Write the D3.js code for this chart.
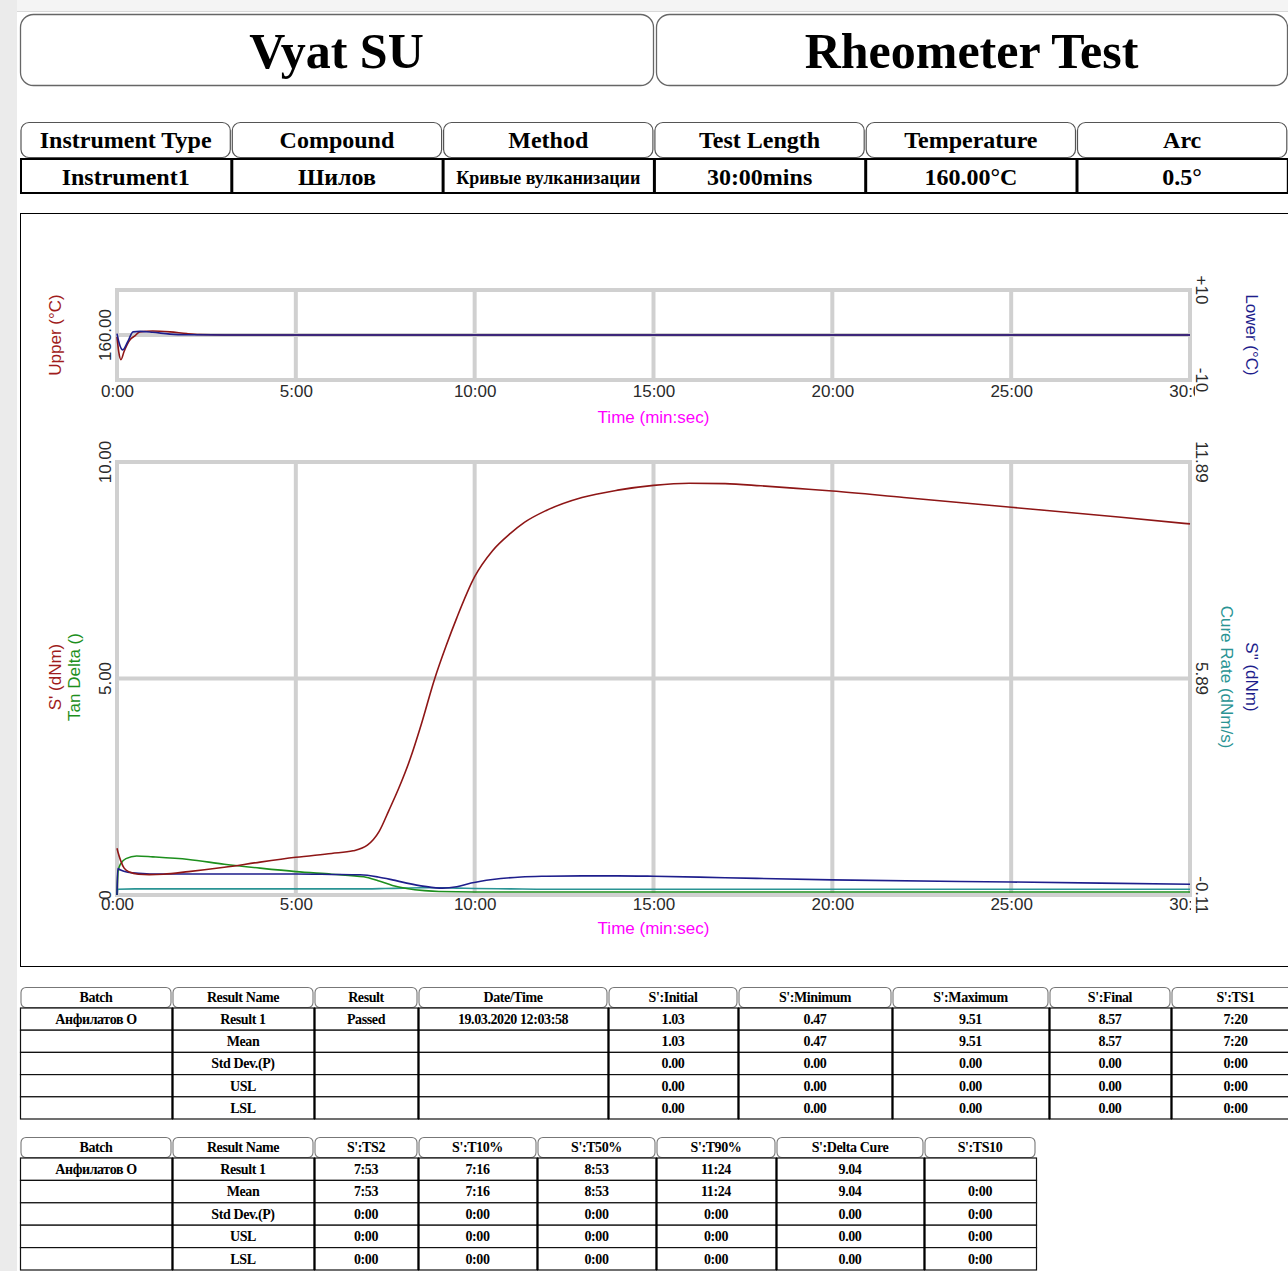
<!DOCTYPE html>
<html>
<head>
<meta charset="utf-8">
<script src="https://cdn.jsdelivr.net/npm/d3@7"></script>
<style>
  body { margin: 0; background: #fff; }
  svg { display: block; }
</style>
</head>
<body>
<div id="chart"></div>
<script>
// -- DATA --
const titles = ["Vyat SU", "Rheometer Test"];
const infoHeaders = ["Instrument Type", "Compound", "Method", "Test Length", "Temperature", "Arc"];
const infoValues = ["Instrument1", "Шилов", "Кривые вулканизации", "30:00mins", "160.00°C", "0.5°"];

const timeTicks = [0, 5, 10, 15, 20, 25, 30];
const upperTicks = [160];
const lowerTicks = [10, -10];
const leftTicks = [0, 5, 10];
const rightTicks = [-0.11, 5.89, 11.89];

// temperature (top chart)
const upperT = [0, 0.05, 0.11, 0.2, 0.36, 0.5, 0.64, 1.0, 1.48, 1.95, 2.3, 3, 30];
const upperV = [159.6, 156.2, 154.5, 156.4, 158.9, 159.8, 160.7, 160.9, 160.7, 160.3, 160.1, 160, 160];
const lowerT = [0, 0.05, 0.16, 0.3, 0.45, 0.64, 1.0, 1.48, 2.0, 3, 30];
const lowerV = [0.3, -1.5, -3.3, -1.5, 0.7, 0.8, 0.6, 0.2, 0.05, 0, 0];

// S' (dNm)
const sPrimeT = [0, 0.03, 0.1, 0.2, 0.35, 0.6, 0.9, 1.3, 2, 3, 4, 5, 6, 6.6, 7.0, 7.33, 7.6, 7.88, 8.2, 8.5, 8.88, 9.2, 9.5, 10, 10.5, 11, 11.4, 12, 13, 14, 15, 16, 17, 18, 19, 20, 22, 24, 26, 28, 30];
const sPrimeV = [1.08, 0.98, 0.80, 0.62, 0.53, 0.48, 0.47, 0.48, 0.54, 0.64, 0.76, 0.87, 0.96, 1.02, 1.15, 1.47, 1.95, 2.47, 3.15, 3.92, 4.99, 5.75, 6.40, 7.35, 7.95, 8.35, 8.61, 8.88, 9.18, 9.35, 9.46, 9.51, 9.50, 9.45, 9.39, 9.33, 9.18, 9.03, 8.88, 8.73, 8.57];
// Tan Delta
const tanT = [0, 0.03, 0.1, 0.25, 0.55, 1, 2, 3, 4, 5, 6, 6.9, 7.3, 7.7, 8.1, 8.6, 9, 10, 15, 20, 25, 30];
const tanV = [0, 0.55, 0.72, 0.84, 0.90, 0.88, 0.82, 0.71, 0.62, 0.54, 0.48, 0.42, 0.33, 0.22, 0.15, 0.10, 0.08, 0.07, 0.07, 0.07, 0.07, 0.07];
// S" (dNm)
const sDblT = [0, 0.02, 0.1, 0.3, 0.6, 1, 2, 3, 4, 5, 6, 6.8, 7.3, 7.7, 8.1, 8.6, 9.1, 9.5, 9.9, 10.5, 11.3, 12, 13, 14, 15, 17, 20, 25, 30];
const sDblV = [-0.11, 0.62, 0.58, 0.52, 0.49, 0.47, 0.47, 0.47, 0.47, 0.47, 0.46, 0.45, 0.39, 0.31, 0.22, 0.13, 0.08, 0.12, 0.22, 0.32, 0.39, 0.41, 0.42, 0.42, 0.41, 0.37, 0.31, 0.25, 0.19];
// Cure Rate (dNm/s)
const cureT = [0, 0.02, 0.5, 3, 6, 7, 7.5, 8, 8.5, 9, 9.5, 10, 11, 12, 15, 20, 25, 30];
const cureV = [-0.11, 0.05, 0.06, 0.06, 0.06, 0.06, 0.07, 0.08, 0.09, 0.09, 0.08, 0.07, 0.06, 0.05, 0.05, 0.05, 0.05, 0.05];

// results tables
const resHeaders1 = ["Batch", "Result Name", "Result", "Date/Time", "S':Initial", "S':Minimum", "S':Maximum", "S':Final", "S':TS1"];
const resRows1 = [
  ["Анфилатов О", "Result 1", "Passed", "19.03.2020 12:03:58", "1.03", "0.47", "9.51", "8.57", "7:20"],
  ["", "Mean", "", "", "1.03", "0.47", "9.51", "8.57", "7:20"],
  ["", "Std Dev.(P)", "", "", "0.00", "0.00", "0.00", "0.00", "0:00"],
  ["", "USL", "", "", "0.00", "0.00", "0.00", "0.00", "0:00"],
  ["", "LSL", "", "", "0.00", "0.00", "0.00", "0.00", "0:00"]
];
const resHeaders2 = ["Batch", "Result Name", "S':TS2", "S':T10%", "S':T50%", "S':T90%", "S':Delta Cure", "S':TS10"];
const resRows2 = [
  ["Анфилатов О", "Result 1", "7:53", "7:16", "8:53", "11:24", "9.04", ""],
  ["", "Mean", "7:53", "7:16", "8:53", "11:24", "9.04", "0:00"],
  ["", "Std Dev.(P)", "0:00", "0:00", "0:00", "0:00", "0.00", "0:00"],
  ["", "USL", "0:00", "0:00", "0:00", "0:00", "0.00", "0:00"],
  ["", "LSL", "0:00", "0:00", "0:00", "0:00", "0.00", "0:00"]
];

// -- LAYOUT --
const W = 1288, H = 1271;
const serif = "'Liberation Serif', 'Times New Roman', serif";
const sans = "'Liberation Sans', Arial, sans-serif";
const cRed = "#8e1616", cBlue = "#1e1e8c", cGreen = "#1d8f1d", cTeal = "#2a9494", cMag = "#ff00ff";

const svg = d3.select("#chart").append("svg")
  .attr("width", W).attr("height", H);

svg.append("rect").attr("width", W).attr("height", H).attr("fill", "#fff");
svg.append("rect").attr("width", W).attr("height", 11).attr("fill", "#f4f4f4");
svg.append("line").attr("x1", 17).attr("x2", W).attr("y1", 11.5).attr("y2", 11.5)
  .attr("stroke", "#d8d8d8");
svg.append("rect").attr("width", 17).attr("height", H).attr("fill", "#ebebeb");

// title boxes
const titleBoxes = [[20, 653], [656, 1287]];
titleBoxes.forEach((b, i) => {
  svg.append("rect")
    .attr("x", b[0] + 0.5).attr("y", 14.5)
    .attr("width", b[1] - b[0]).attr("height", 71)
    .attr("rx", 13)
    .attr("fill", "#fff").attr("stroke", "#666").attr("stroke-width", 1.3);
  svg.append("text")
    .attr("x", (b[0] + b[1]) / 2).attr("y", 68)
    .attr("text-anchor", "middle")
    .style("font-family", serif).style("font-weight", "bold").style("font-size", "50px")
    .text(titles[i]);
});

// info table
const infoEdges = d3.range(7).map(i => 20 + i * 211.3);
infoHeaders.forEach((h, i) => {
  const x0 = infoEdges[i], x1 = infoEdges[i + 1];
  svg.append("rect")
    .attr("x", x0 + 1).attr("y", 122.5).attr("width", x1 - x0 - 2).attr("height", 35)
    .attr("rx", 8).attr("fill", "#fff").attr("stroke", "#555").attr("stroke-width", 1.2);
  svg.append("text")
    .attr("x", (x0 + x1) / 2).attr("y", 148).attr("text-anchor", "middle")
    .style("font-family", serif).style("font-weight", "bold").style("font-size", "24px")
    .text(h);
  svg.append("rect")
    .attr("x", x0 + 1).attr("y", 159).attr("width", x1 - x0 - 1).attr("height", 34)
    .attr("fill", "#fff").attr("stroke", "#000").attr("stroke-width", 2);
  const t = svg.append("text")
    .attr("x", (x0 + x1) / 2).attr("y", 185).attr("text-anchor", "middle")
    .style("font-family", serif).style("font-weight", "bold")
    .style("font-size", i === 2 ? "19px" : "24px")
    .text(infoValues[i]);
  if (i === 2) t.attr("textLength", 184).attr("lengthAdjust", "spacingAndGlyphs").attr("y", 184);
});

// chart frame
svg.append("rect")
  .attr("x", 20.5).attr("y", 213.5).attr("width", 1290).attr("height", 753)
  .attr("fill", "#fff").attr("stroke", "#000").attr("stroke-width", 1);

// -- SCALES --
const x = d3.scaleLinear().domain([0, 30]).range([117, 1190]);
const yUpper = d3.scaleLinear().domain([150, 170]).range([380, 290]);
const yLower = d3.scaleLinear().domain([-10, 10]).range([380, 290]);
const yLeft = d3.scaleLinear().domain([0, 10]).range([895, 462]);
const yRight = d3.scaleLinear().domain([-0.11, 11.89]).range([895, 462]);

const defs = svg.append("defs");
defs.append("clipPath").attr("id", "tickclipTop")
  .append("rect").attr("x", 0).attr("y", 0).attr("width", 1195).attr("height", H);
defs.append("clipPath").attr("id", "tickclipMain")
  .append("rect").attr("x", 0).attr("y", 0).attr("width", 1191).attr("height", H);

function drawGrid(yScale, midVal) {
  const g = svg.append("g");
  const [yb, yt] = yScale.range();
  g.selectAll("line.v").data(timeTicks).join("line")
    .attr("x1", d => x(d)).attr("x2", d => x(d))
    .attr("y1", yt).attr("y2", yb)
    .attr("stroke", "#d0d0d0").attr("stroke-width", 4);
  g.append("line")
    .attr("x1", x(0)).attr("x2", x(30))
    .attr("y1", yScale(midVal)).attr("y2", yScale(midVal))
    .attr("stroke", "#d0d0d0").attr("stroke-width", 4);
  g.append("rect")
    .attr("x", x(0)).attr("y", yt).attr("width", x(30) - x(0)).attr("height", yb - yt)
    .attr("fill", "none").attr("stroke", "#d0d0d0").attr("stroke-width", 4);
}

function drawXAxis(yPos, pad, labelY, clipId) {
  const g = svg.append("g")
    .attr("transform", `translate(0,${yPos})`)
    .attr("clip-path", `url(#${clipId})`)
    .call(d3.axisBottom(x).tickValues(timeTicks).tickFormat(d => d + ":00").tickSize(0).tickPadding(pad));
  g.select(".domain").remove();
  g.selectAll("text").style("font-family", sans).style("font-size", "17px").attr("fill", "#2a2a2a");
  svg.append("text")
    .attr("x", x(15)).attr("y", labelY).attr("text-anchor", "middle")
    .style("font-family", sans).style("font-size", "17px").attr("fill", cMag)
    .text("Time (min:sec)");
}

function vTicks(scale, values, fmt, xPos, angle) {
  svg.append("g").selectAll("text").data(values).join("text")
    .attr("transform", d => `translate(${xPos},${scale(d)}) rotate(${angle})`)
    .attr("text-anchor", "middle")
    .style("font-family", sans).style("font-size", "17px").attr("fill", "#2a2a2a")
    .text(fmt);
}

function vLabel(txt, xPos, yPos, angle, color) {
  svg.append("text")
    .attr("transform", `translate(${xPos},${yPos}) rotate(${angle})`)
    .attr("text-anchor", "middle")
    .style("font-family", sans).style("font-size", "17px").attr("fill", color)
    .text(txt);
}

function drawLine(ts, vs, yScale, color) {
  const pts = ts.map((t, i) => [t, vs[i]]);
  svg.append("path")
    .datum(pts)
    .attr("fill", "none").attr("stroke", color).attr("stroke-width", 1.6)
    .attr("d", d3.line().x(d => x(d[0])).y(d => yScale(d[1])).curve(d3.curveMonotoneX));
}

// -- TOP CHART (temperature) --
drawGrid(yUpper, 160);
drawXAxis(380, 5, 423, "tickclipTop");
vTicks(yUpper, upperTicks, d => d.toFixed(2), 111, -90);
vTicks(yLower, lowerTicks, d => (d > 0 ? "+" + d : "" + d), 1196, 90);
vLabel("Upper (°C)", 61, 335, -90, "#a01c1c");
vLabel("Lower (°C)", 1246, 335, 90, cBlue);
drawLine(upperT, upperV, yUpper, cRed);
drawLine(lowerT, lowerV, yLower, cBlue);

// -- MAIN CHART (torque) --
drawGrid(yLeft, 5);
drawXAxis(895, 3, 934, "tickclipMain");
vTicks(yLeft, leftTicks, d => (d === 0 ? "0" : d.toFixed(2)), 111, -90);
vTicks(yRight, rightTicks, d => d.toFixed(2), 1196, 90);
vLabel("S' (dNm)", 61, 677, -90, "#a01c1c");
vLabel("Tan Delta ()", 80, 677, -90, cGreen);
vLabel("Cure Rate (dNm/s)", 1221, 677, 90, cTeal);
vLabel("S\" (dNm)", 1246, 677, 90, cBlue);
drawLine(cureT, cureV, yRight, cTeal);
drawLine(tanT, tanV, yLeft, cGreen);
drawLine(sDblT, sDblV, yRight, cBlue);
drawLine(sPrimeT, sPrimeV, yLeft, cRed);

// -- RESULT TABLES --
function drawTable(headers, rows, edges, y0, hh, rh) {
  const g = svg.append("g");
  headers.forEach((h, i) => {
    const x0 = edges[i], x1 = edges[i + 1];
    g.append("rect")
      .attr("x", x0 + 1).attr("y", y0 + 0.5).attr("width", x1 - x0 - 2).attr("height", hh)
      .attr("rx", 5).attr("fill", "#fff").attr("stroke", "#777").attr("stroke-width", 1.1);
    g.append("text")
      .attr("x", (x0 + x1) / 2).attr("y", y0 + 15).attr("text-anchor", "middle")
      .style("font-family", serif).style("font-weight", "bold").style("font-size", "14px")
      .style("letter-spacing", "-0.4px")
      .text(h);
  });
  const top = y0 + hh + 1;
  rows.forEach((r, j) => {
    r.forEach((v, i) => {
      const x0 = edges[i], x1 = edges[i + 1];
      g.append("rect")
        .attr("x", x0 + 0.5).attr("y", top + j * rh).attr("width", x1 - x0).attr("height", rh)
        .attr("fill", "#fff").attr("stroke", "#111").attr("stroke-width", 1.2);
      g.append("text")
        .attr("x", (x0 + x1) / 2).attr("y", top + j * rh + 16).attr("text-anchor", "middle")
        .style("font-family", serif).style("font-weight", "bold").style("font-size", "14px")
        .style("letter-spacing", "-0.4px")
        .text(v);
    });
  });
  // heavier column separators
  edges.slice(1, -1).forEach(e => {
    g.append("line")
      .attr("x1", e + 0.5).attr("x2", e + 0.5)
      .attr("y1", top).attr("y2", top + rows.length * rh)
      .attr("stroke", "#000").attr("stroke-width", 2.2);
  });
}

drawTable(resHeaders1, resRows1, [20, 172, 314, 418, 608, 738, 892, 1049, 1171, 1300], 987, 20, 22.2);
drawTable(resHeaders2, resRows2, [20, 172, 314, 418, 537, 656, 776, 924, 1036], 1137, 20, 22.4);
</script>
</body>
</html>
